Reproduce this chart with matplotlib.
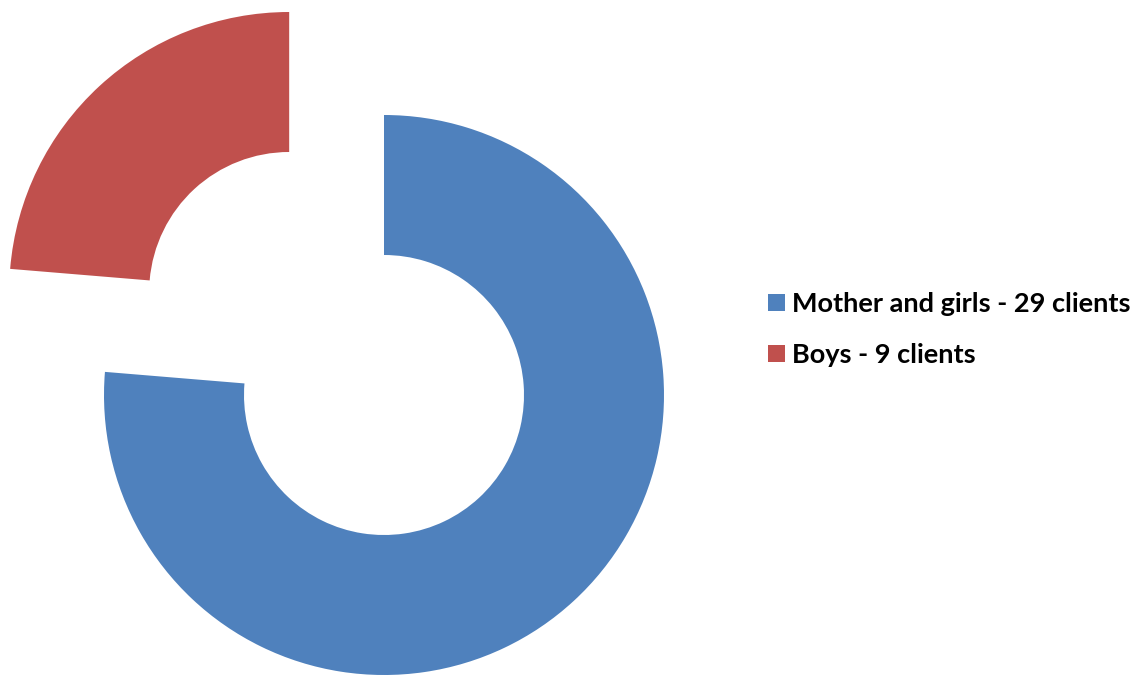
import matplotlib.pyplot as plt
from matplotlib.patches import Patch

# data
labels = ['Mother and girls - 29 clients', 'Boys - 9 clients']
clients = [29, 9]
colors = ['#4F81BD', '#C0504D']
explode = [0, 0.5]

fig = plt.figure(figsize=(11.44, 6.75), dpi=100)
ax = fig.add_axes([0, 0, 1, 1])

ax.pie(clients, colors=colors, explode=explode, startangle=90,
       counterclock=False, radius=1.0,
       wedgeprops=dict(width=0.5, edgecolor='none'))

# pie center at (384, 395) px, radius 280 px
ax.set_xlim(-384 / 280, (1144 - 384) / 280)
ax.set_ylim(-280 / 280, 395 / 280)
ax.set_aspect('auto')
ax.axis('off')

handles = [Patch(facecolor=c, edgecolor='none') for c in colors]
fig.legend(handles, labels, loc='upper left', bbox_to_anchor=(768 / 1144, 1 - 292 / 675),
           frameon=False, prop={'family': 'Lato', 'weight': 'bold', 'size': 19.5},
           handlelength=0.63, handleheight=0.63, handletextpad=0.26,
           labelspacing=1.0, borderaxespad=0, borderpad=0)

fig.savefig('out.png', dpi=100)
